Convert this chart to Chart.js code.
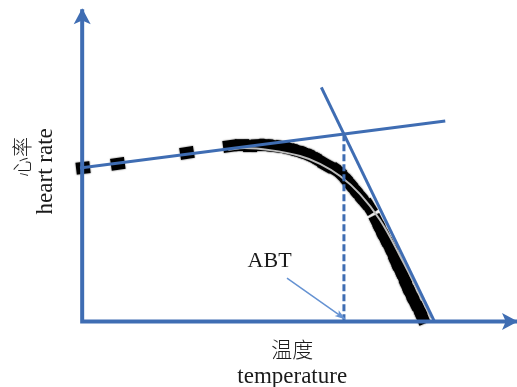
<!DOCTYPE html>
<html>
<head>
<meta charset="utf-8">
<script src="https://cdn.jsdelivr.net/npm/chart.js@4/dist/chart.umd.min.js"></script>
<style>
  html, body { margin: 0; padding: 0; background: #fff; }
  #wrap { width: 517px; height: 387px; }
</style>
</head>
<body>
<div id="wrap"><canvas id="abtChart" width="517" height="387"></canvas></div>
<script>
// ── DATA (x = temperature, y = heart rate, arbitrary units) ──
const hrX = [0.2, 8.2, 24.1, 34.0, 36.8, 38.6, 40.4, 42.3, 44.1, 46.0, 47.8, 49.6, 51.5, 53.1,
             54.7, 56.1, 57.5, 58.8, 60.2, 61.4, 62.5, 63.7, 64.8, 66.0, 67.8, 68.7, 69.6,
             70.6, 71.5, 72.2, 73.1, 74.0, 74.7, 75.6, 76.5, 77.5, 78.2];
const hrY = [49.2, 50.5, 54.0, 56.2, 56.5, 56.2, 56.5, 56.5, 56.2, 55.9, 55.3, 54.6, 53.7, 52.7,
             51.4, 50.1, 49.2, 48.2, 46.3, 44.4, 42.5, 40.5, 38.6, 36.7, 31.9, 29.3, 26.8,
             24.2, 21.6, 19.1, 16.5, 13.9, 11.4, 8.8, 6.2, 3.7, 1.4];

const fitX = [33.6, 37.4, 43.2, 50.1, 54.7, 59.3, 63.9, 68.5, 73.1, 77.7, 80.2];
const fitY = [55.0, 55.6, 54.9, 53.0, 50.5, 46.6, 40.8, 32.5, 21.0, 8.5, 1.1];

const baseLineX  = [-0.5, 83.5];   // shallow tangent
const baseLineY  = [49.2, 64.2];
const dropLineX  = [55.0, 81.0];   // steep tangent
const dropLineY  = [75.0, 0.0];
const abtX       = 60.2;           // breakpoint temperature
const abtTopY    = 60.0;
const pointerX   = [47.1, 60.4];
const pointerY   = [13.9, 0.8];
const axisX      = [0, 0, 100];
const axisY      = [100, 0, 0];

const xTitle   = ['温度', 'temperature'];
const yTitle   = ['心率', 'heart rate'];
const abtLabel = 'ABT';

// ── STYLE ────────────────────────────────────────
const BLUE  = '#3f6db3';
const LIGHT = '#6592d2';
const SERIF = '"Liberation Serif", "DejaVu Serif", serif';
const CJK   = '"Noto Sans CJK SC", sans-serif';

const pts = (xs, ys) => xs.map((x, i) => ({ x, y: ys[i] }));

// black block used for each measured point (slightly soft edges)
const mark = document.createElement('canvas');
mark.width = 18; mark.height = 16;
(() => {
  const c = mark.getContext('2d');
  c.fillStyle = '#000';
  c.shadowColor = 'rgba(0,0,0,0.6)';
  c.shadowBlur = 1.5;
  c.fillRect(2, 2, 14, 12);
})();

function tangentDeg(c) {
  const d = c.dataset.data, i = c.dataIndex;
  const a = d[Math.max(i - 1, 0)], b = d[Math.min(i + 1, d.length - 1)];
  const sx = c.chart.scales.x, sy = c.chart.scales.y;
  if (!sx || !sy) return 0;
  const dx = sx.getPixelForValue(b.x) - sx.getPixelForValue(a.x);
  const dy = sy.getPixelForValue(b.y) - sy.getPixelForValue(a.y);
  return Math.atan2(dy, dx) * 180 / Math.PI;
}

// ── ARROWHEADS + TEXT PLUGIN ─────────────────────
function head(ctx, from, tip, len, wid, color) {
  const ang = Math.atan2(tip.y - from.y, tip.x - from.x);
  ctx.save();
  ctx.translate(tip.x, tip.y);
  ctx.rotate(ang);
  ctx.fillStyle = color;
  ctx.beginPath();
  ctx.moveTo(1, 0);
  ctx.lineTo(-len, -wid / 2);
  ctx.lineTo(-len * 0.75, 0);
  ctx.lineTo(-len, wid / 2);
  ctx.closePath();
  ctx.fill();
  ctx.restore();
}

const decor = {
  id: 'decor',
  afterDatasetsDraw(chart) {
    const ctx = chart.ctx;
    chart.data.datasets.forEach((ds, i) => {
      const el = chart.getDatasetMeta(i).data;
      if (!ds.arrow || el.length < 2) return;
      const n = el.length;
      if (ds.arrow.end)   head(ctx, el[n - 2], el[n - 1], ds.arrow.len, ds.arrow.wid, ds.borderColor);
      if (ds.arrow.start) head(ctx, el[1], el[0], ds.arrow.len, ds.arrow.wid, ds.borderColor);
    });

    const sx = chart.scales.x, sy = chart.scales.y;
    const ox = sx.getPixelForValue(0), oy = sy.getPixelForValue(0);
    ctx.save();
    ctx.fillStyle = '#1a1a1a';
    ctx.textAlign = 'center';

    // x title
    const cx = sx.getPixelForValue(48.3);
    ctx.font = '300 21px ' + CJK;
    ctx.textBaseline = 'middle';
    ctx.fillText(xTitle[0], cx, oy + 28);
    ctx.font = '23px ' + SERIF;
    ctx.textBaseline = 'alphabetic';
    ctx.fillText(xTitle[1], cx, oy + 62);

    // y title (rotated)
    ctx.save();
    ctx.translate(ox - 60, sy.getPixelForValue(52.7));
    ctx.rotate(-Math.PI / 2);
    ctx.font = '300 20px ' + CJK;
    ctx.textBaseline = 'middle';
    ctx.fillText(yTitle[0], 0, 0);
    ctx.restore();
    ctx.save();
    ctx.translate(ox - 30, sy.getPixelForValue(48.1));
    ctx.rotate(-Math.PI / 2);
    ctx.font = '23px ' + SERIF;
    ctx.textBaseline = 'alphabetic';
    ctx.fillText(yTitle[1], 0, 0);
    ctx.restore();

    // ABT label
    ctx.font = '22px ' + SERIF;
    ctx.textBaseline = 'alphabetic';
    ctx.fillText(abtLabel, sx.getPixelForValue(43.1), sy.getPixelForValue(17.5));
    ctx.restore();
  },
};

// ── CHART ────────────────────────────────────────
const lineDs = (data, color, width, extra) => Object.assign({
  data, showLine: true, borderColor: color, borderWidth: width,
  pointRadius: 0, fill: false, tension: 0, clip: false,
}, extra);

new Chart(document.getElementById('abtChart').getContext('2d'), {
  type: 'scatter',
  data: {
    datasets: [
      lineDs(pts(axisX, axisY), BLUE, 4,
        { borderJoinStyle: 'miter', arrow: { start: true, end: true, len: 15, wid: 17 } }),
      lineDs(pts(pointerX, pointerY), LIGHT, 1.5, { arrow: { end: true, len: 10, wid: 7 } }),
      lineDs(pts(baseLineX, baseLineY), BLUE, 3),
      lineDs(pts(dropLineX, dropLineY), BLUE, 3),
      lineDs([{ x: abtX, y: abtTopY }, { x: abtX, y: 0 }], BLUE, 3, { borderDash: [7, 3] }),
      lineDs(pts(fitX, fitY), '#bdbdbd', 2, { tension: 0.4 }),
      {
        data: pts(hrX, hrY),
        pointStyle: mark,
        pointRadius: 8,
        rotation: tangentDeg,
        showLine: false,
        clip: false,
      },
    ],
  },
  options: {
    responsive: false,
    animation: false,
    events: [],
    layout: { padding: 0, autoPadding: false },
    plugins: { legend: { display: false }, tooltip: { enabled: false } },
    scales: {
      x: { type: 'linear', display: false, min: -18.9, max: 100 },
      y: { type: 'linear', display: false, min: -21, max: 103 },
    },
  },
  plugins: [decor],
});
</script>
</body>
</html>
